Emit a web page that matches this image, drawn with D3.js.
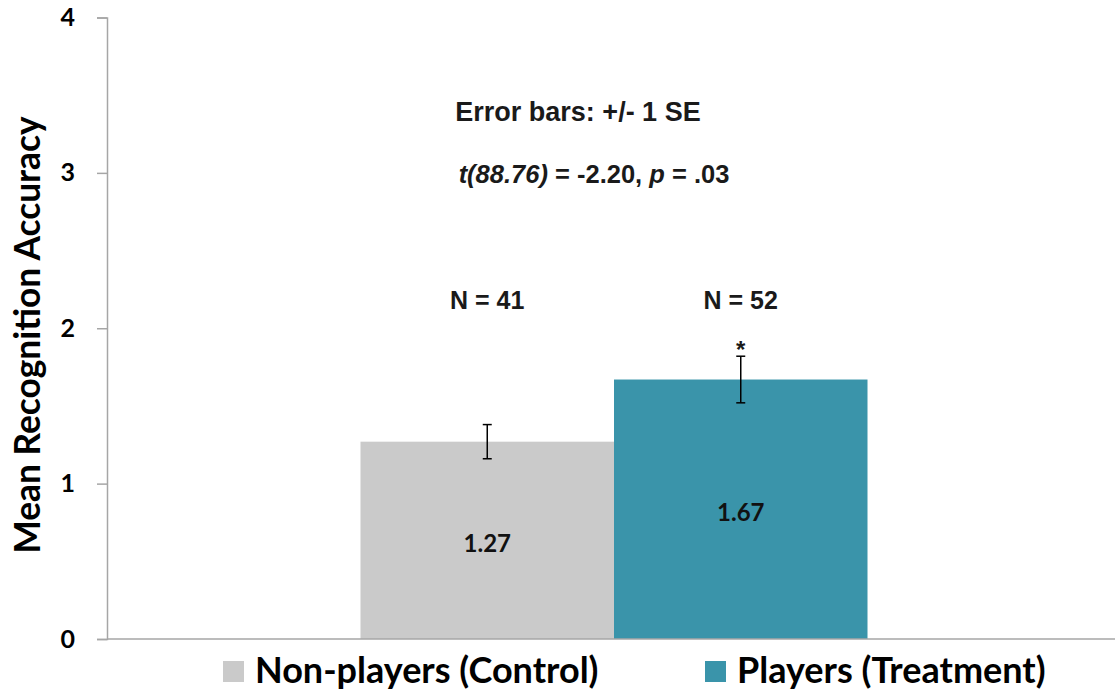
<!DOCTYPE html>
<html>
<head>
<meta charset="utf-8">
<script src="https://cdn.jsdelivr.net/npm/d3@7.9.0/dist/d3.min.js"></script>
<style>
  body { margin: 0; background: #fff; }
  svg { display: block; }
  .tick text { font-family: Lato, "Open Sans", sans-serif; font-weight: 700; }
  .note { font-family: "Liberation Sans", Arial, sans-serif; font-weight: 700; fill: #1a1a1a; }
</style>
</head>
<body>
<div id="chart"></div>
<script>
// Chart values
const groups = ['Non-players (Control)', 'Players (Treatment)'];
const means = [1.27, 1.67];
const ses = [0.11, 0.15];
const ns = [41, 52];
const colors = ['#cacaca', '#3a94aa'];
const yTicks = [0, 1, 2, 3, 4];

const width = 1115;
const height = 695;
const margin = { top: 17, right: 0, bottom: 56, left: 107 };

const usableArea = {
  top: margin.top,
  bottom: height - margin.bottom,
  left: margin.left,
};

const svg = d3
  .select('#chart')
  .append('svg')
  .attr('width', width)
  .attr('height', height);

const yScale = d3.scaleLinear().domain([0, 4]).range([639, 17.5]);

// one category, two bars side by side in the middle
const xScale = d3
  .scaleBand()
  .domain(groups)
  .range([360.5, 867.5]);

// Y axis
const yAxis = svg
  .append('g')
  .attr('transform', `translate(${usableArea.left}, 0)`)
  .call(
    d3.axisLeft(yScale)
      .tickValues(yTicks)
      .tickFormat(d3.format('d'))
      .tickSize(10)
      .tickPadding(22)
  );
yAxis.select('.domain').attr('stroke', '#a6a6a6').attr('stroke-width', 1.5);
yAxis.selectAll('.tick line').attr('stroke', '#a6a6a6').attr('stroke-width', 1.5);
yAxis.selectAll('.tick text').attr('font-size', 25).attr('fill', '#000');

// Bars
svg
  .append('g')
  .selectAll('rect')
  .data(groups)
  .join('rect')
  .attr('x', (d) => xScale(d))
  .attr('width', xScale.bandwidth())
  .attr('y', (d, i) => yScale(means[i]))
  .attr('height', (d, i) => yScale(0) - yScale(means[i]))
  .attr('fill', (d, i) => colors[i]);

// X axis baseline
svg
  .append('line')
  .attr('x1', usableArea.left)
  .attr('x2', 1115)
  .attr('y1', yScale(0))
  .attr('y2', yScale(0))
  .attr('stroke', '#a6a6a6')
  .attr('stroke-width', 1.5);

// Error bars
const err = svg.append('g').attr('stroke', '#000').attr('stroke-width', 1.5);
groups.forEach((g, i) => {
  const cx = xScale(g) + xScale.bandwidth() / 2;
  const y0 = yScale(means[i] - ses[i]);
  const y1 = yScale(means[i] + ses[i]);
  err.append('line').attr('x1', cx).attr('x2', cx).attr('y1', y0).attr('y2', y1);
  err.append('line').attr('x1', cx - 4.5).attr('x2', cx + 4.5).attr('y1', y0).attr('y2', y0);
  err.append('line').attr('x1', cx - 4.5).attr('x2', cx + 4.5).attr('y1', y1).attr('y2', y1);
});

// Value labels inside bars
svg
  .append('g')
  .selectAll('text')
  .data(groups)
  .join('text')
  .attr('x', (d) => xScale(d) + xScale.bandwidth() / 2)
  .attr('y', (d, i) => (yScale(means[i]) + yScale(0)) / 2 + 11.5)
  .attr('text-anchor', 'middle')
  .attr('font-family', 'Lato, "Open Sans", sans-serif')
  .attr('font-weight', 700)
  .attr('font-size', 24)
  .attr('fill', '#111')
  .text((d, i) => means[i].toFixed(2));

// N labels
svg
  .append('g')
  .selectAll('text')
  .data(groups)
  .join('text')
  .attr('class', 'note')
  .attr('x', (d) => xScale(d) + xScale.bandwidth() / 2)
  .attr('y', 309)
  .attr('text-anchor', 'middle')
  .attr('font-size', 25)
  .text((d, i) => `N = ${ns[i]}`);

// significance star
svg
  .append('text')
  .attr('class', 'note')
  .attr('x', xScale(groups[1]) + xScale.bandwidth() / 2)
  .attr('y', 358)
  .attr('text-anchor', 'middle')
  .attr('font-size', 24)
  .text('*');

// Notes
svg
  .append('text')
  .attr('class', 'note')
  .attr('x', 578)
  .attr('y', 121)
  .attr('text-anchor', 'middle')
  .attr('font-size', 27)
  .text('Error bars: +/- 1 SE');

const tLine = svg
  .append('text')
  .attr('class', 'note')
  .attr('x', 594)
  .attr('y', 183)
  .attr('text-anchor', 'middle')
  .attr('font-size', 25.5);
tLine.append('tspan').attr('font-style', 'italic').text('t(88.76)');
tLine.append('tspan').text(' = -2.20, ');
tLine.append('tspan').attr('font-style', 'italic').text('p');
tLine.append('tspan').text(' = .03');

// Y axis title
svg
  .append('text')
  .attr('transform', 'translate(40, 335) rotate(-90)')
  .attr('text-anchor', 'middle')
  .attr('font-family', 'Lato, "Open Sans", sans-serif')
  .attr('font-weight', 700)
  .attr('font-size', 35.3)
  .attr('fill', '#000')
  .text('Mean Recognition Accuracy');

// Legend
const legendX = [223, 705];
const legend = svg
  .append('g')
  .selectAll('g')
  .data(groups)
  .join('g')
  .attr('transform', (d, i) => `translate(${legendX[i]}, 661)`);
legend
  .append('rect')
  .attr('width', 21)
  .attr('height', 21)
  .attr('fill', (d, i) => colors[i]);
legend
  .append('text')
  .attr('x', 32)
  .attr('y', 22)
  .attr('font-family', 'Lato, "Open Sans", sans-serif')
  .attr('font-weight', 700)
  .attr('font-size', 36)
  .attr('fill', '#000')
  .text((d) => d);
</script>
</body>
</html>
